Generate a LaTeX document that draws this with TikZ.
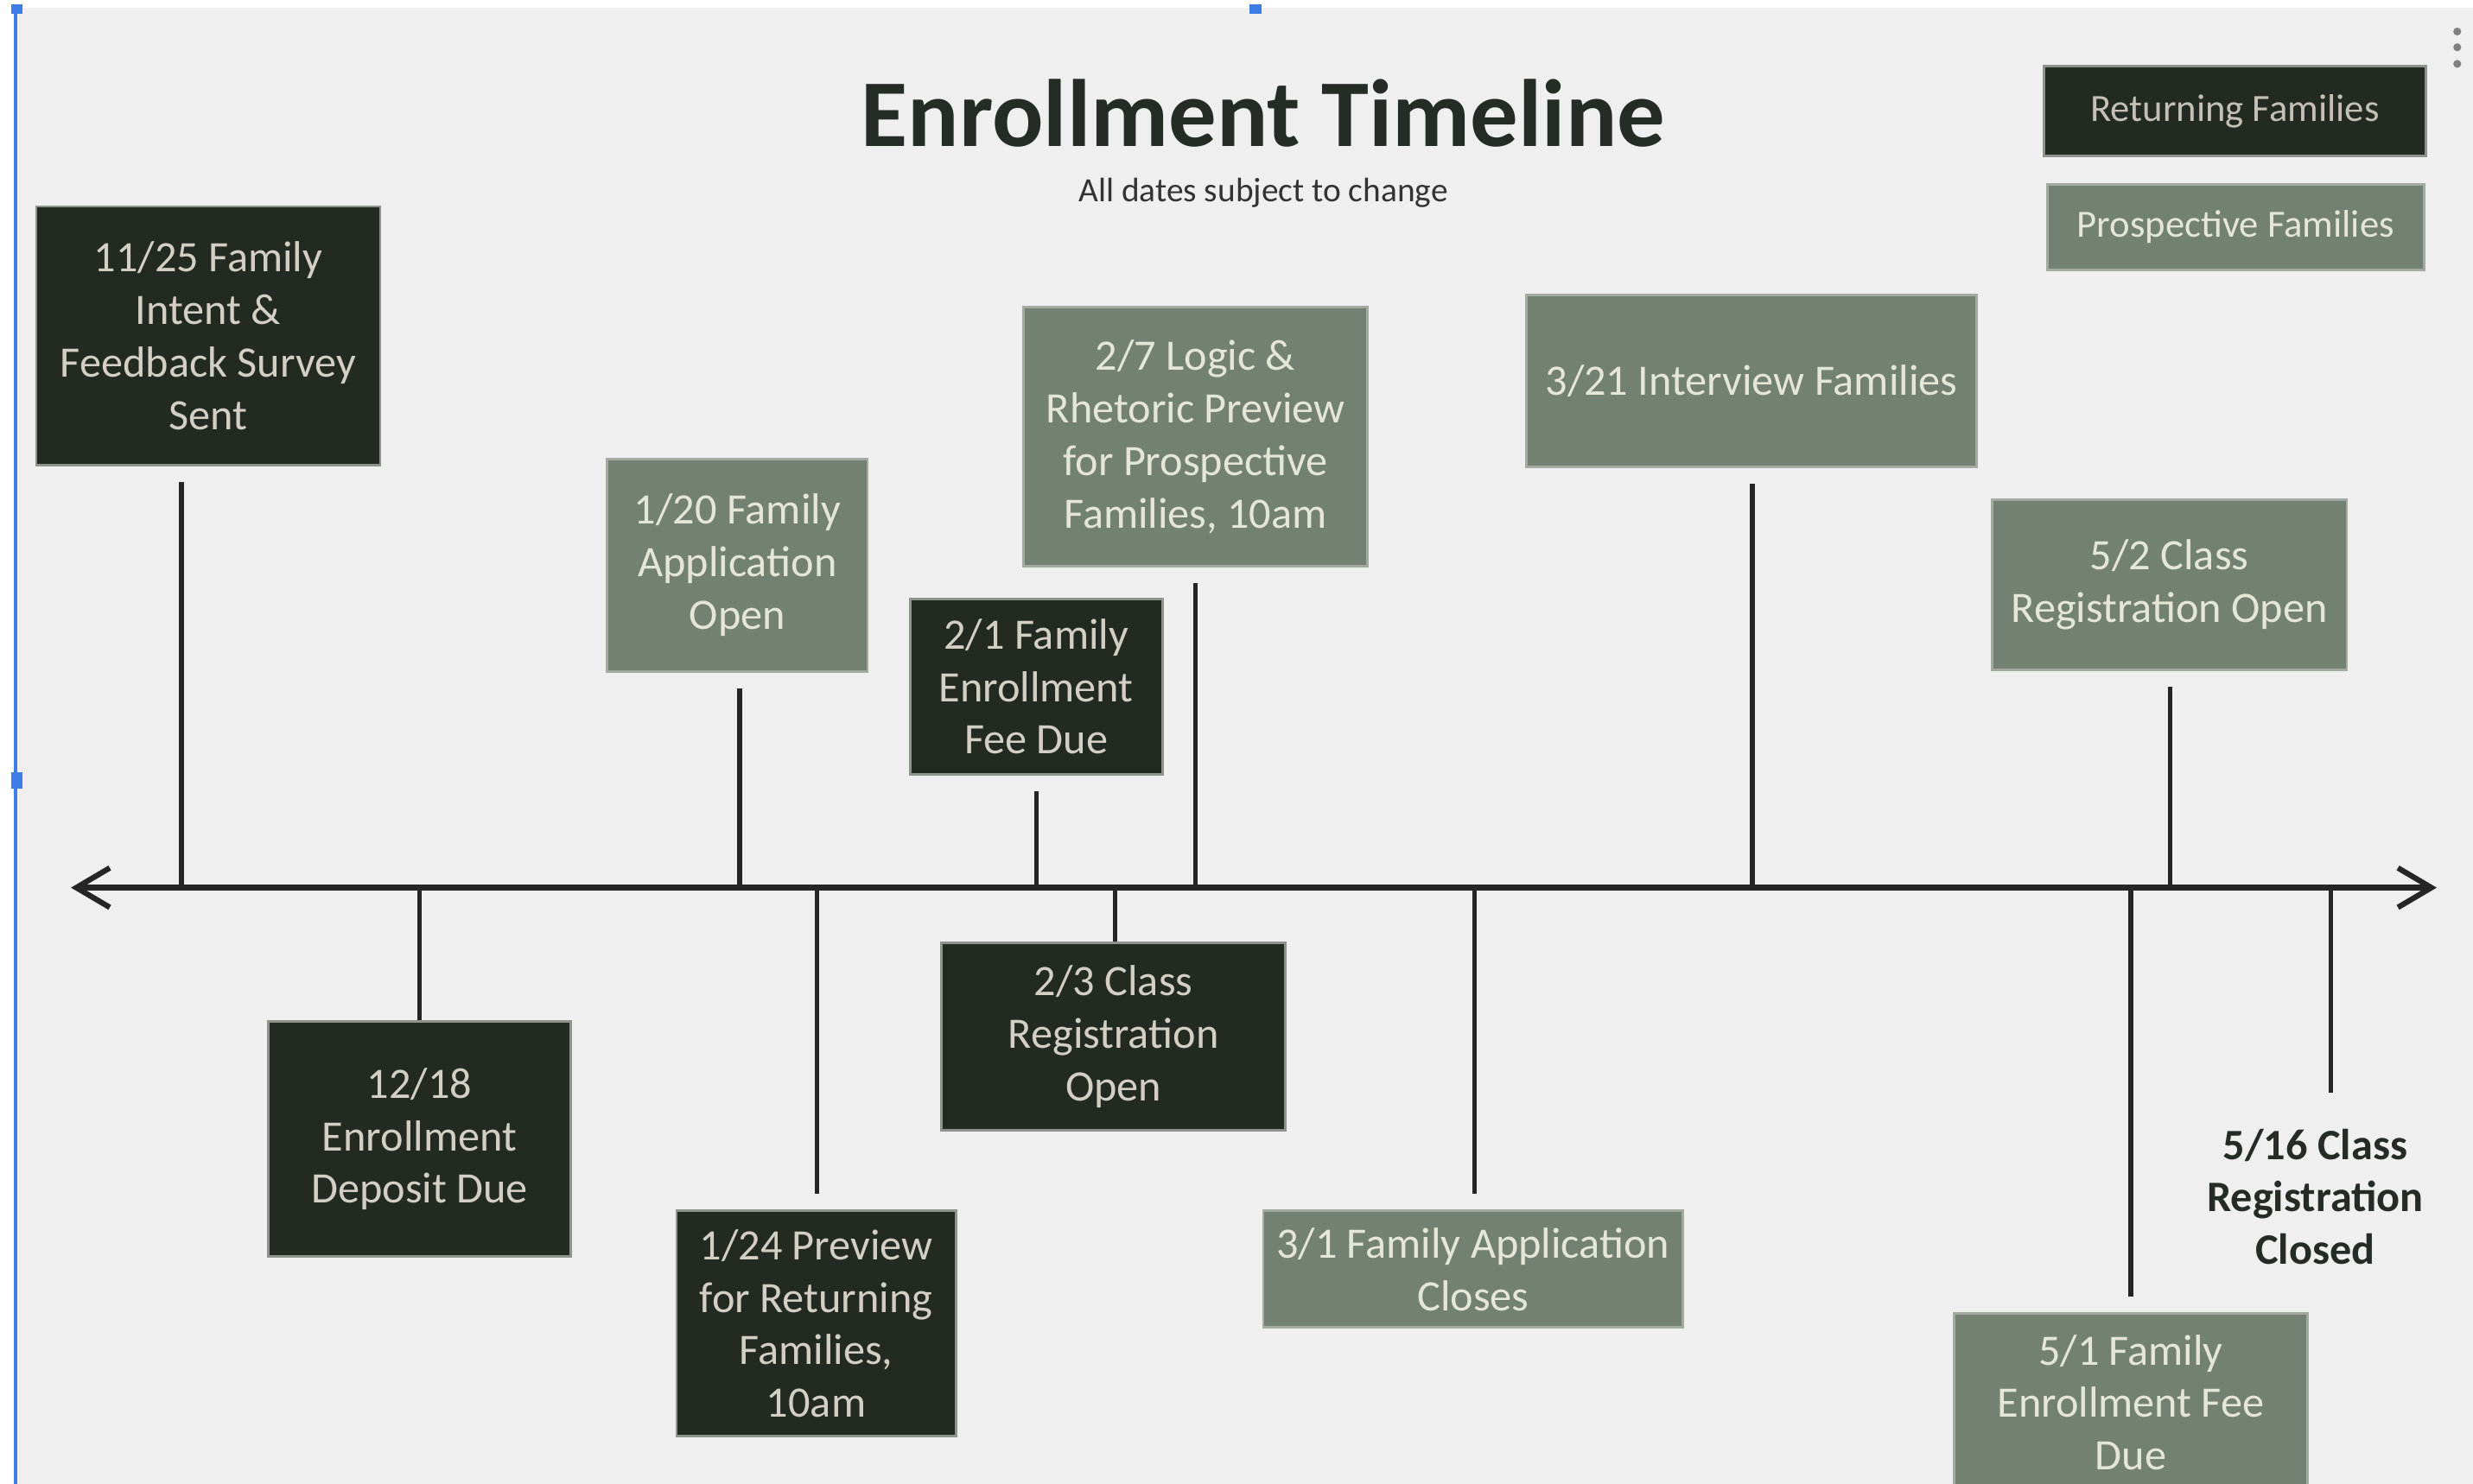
\documentclass[tikz,border=0pt]{standalone}
\usepackage{fontspec}
\setmainfont{Carlito}
\usetikzlibrary{arrows.meta}
\definecolor{bgc}{HTML}{EFEFEF}
\definecolor{darkbox}{HTML}{232A22}
\definecolor{lightbox}{HTML}{738172}
\definecolor{darkedge}{HTML}{8E938B}
\definecolor{lightedge}{HTML}{A3ABA1}
\definecolor{darktext}{HTML}{D3CFC5}
\definecolor{lighttext}{HTML}{E4E6D8}
\definecolor{legtext}{HTML}{C4C0B6}
\definecolor{inkc}{HTML}{252525}
\definecolor{titlec}{HTML}{252B25}
\definecolor{bluec}{HTML}{3D7DE6}
\newcommand\tlbox[7]{\node[#2, minimum width={(#5-#3)*0.5193pt}, minimum height={(#6-#4)*0.5193pt}] (#1) at ({(#3+#5)/2},{(#4+#6)/2}) {#7};}
\begin{document}
\begin{tikzpicture}[x=0.01825cm,y=-0.01825cm,
  boxtext/.style={font=\fontsize{14.3pt}{17.3pt}\selectfont, align=center, inner sep=0pt},
  retbox/.style={boxtext, fill=darkbox, draw=darkedge, line width=0.8pt, text=darktext},
  probox/.style={boxtext, fill=lightbox, draw=lightedge, line width=0.8pt, text=lighttext},
  conn/.style={draw=inkc, line width=1.5pt},
  gap/.style={shorten <=5.2pt},
  axisline/.style={draw=inkc, line width=1.8pt, {Straight Barb[length=11pt,width=13pt]}-{Straight Barb[length=11pt,width=13pt]}},
]
\useasboundingbox (0,0) rectangle (1568,941.2);
\clip (0,0) rectangle (1568,941.2);
\fill[white] (0,0) rectangle (1568,941.2);
\fill[bgc] (11,5) rectangle (1568,941.2);
\draw[bluec, line width=1.2pt] (10,5) -- (10,941.2);
\fill[bluec] (7,3) rectangle (14,9);
\fill[bluec] (792,3) rectangle (800,9);
\fill[bluec] (7,490) rectangle (14,500);
\fill[gray] (1558,20) circle (1.3pt);
\fill[gray] (1558,30) circle (1.3pt);
\fill[gray] (1558,40.5) circle (1.3pt);

% title
\node[anchor=base, text=titlec, font=\fontsize{31.5pt}{36pt}\selectfont\bfseries, inner sep=0pt] (title) at (801,93) {Enrollment Timeline};
\node[anchor=base, text=black!80, font=\fontsize{11.2pt}{13pt}\selectfont, inner sep=0pt] (subtitle) at (801,128) {All dates subject to change};

% legend
\tlbox{legret}{retbox, text=legtext, font=\fontsize{12.7pt}{15pt}\selectfont}{1296}{42}{1538}{99}{Returning Families}
\tlbox{legpro}{probox, font=\fontsize{12.7pt}{15pt}\selectfont}{1298}{117}{1537}{171}{Prospective Families}

% events
\tlbox{b1}{retbox}{23}{131}{241}{295}{11/25 Family\\Intent \&\\Feedback Survey\\Sent}
\tlbox{b2}{retbox}{170}{648}{362}{797}{12/18\\Enrollment\\Deposit Due}
\tlbox{b3}{probox}{385}{291}{550}{426}{1/20 Family\\Application\\Open}
\tlbox{b4}{retbox}{429}{768}{606}{911}{1/24 Preview\\for Returning\\Families,\\10am}
\tlbox{b5}{retbox}{577}{380}{737}{491}{2/1 Family\\Enrollment\\Fee Due}
\tlbox{b6}{retbox}{597}{598}{815}{717}{2/3 Class\\Registration\\Open}
\tlbox{b7}{probox}{649}{195}{867}{359}{2/7 Logic \&\\Rhetoric Preview\\for Prospective\\Families, 10am}
\tlbox{b8}{probox}{801}{768}{1067}{842}{3/1 Family Application\\Closes}
\tlbox{b9}{probox}{968}{187}{1253}{296}{3/21 Interview Families}
\tlbox{b10}{probox}{1263}{317}{1488}{425}{5/2 Class\\Registration Open}
\tlbox{b11}{probox}{1239}{833}{1463}{946}{5/1 Family\\Enrollment Fee\\Due}
\node[boxtext, font=\fontsize{14.3pt}{17.3pt}\selectfont\bfseries, text=titlec] (b12) at (1468,759) {5/16 Class\\Registration\\Closed};

% axis points
\coordinate (L) at (45,563);
\coordinate (R) at (1545,563);
\coordinate (a1) at (115,563);
\coordinate (a2) at (266,563);
\coordinate (a3) at (469,563);
\coordinate (a4) at (518,563);
\coordinate (a5) at (657,563);
\coordinate (a6) at (707,563);
\coordinate (a7) at (758,563);
\coordinate (a8) at (935,563);
\coordinate (a9) at (1111,563);
\coordinate (a10) at (1376,563);
\coordinate (a11) at (1351,563);
\coordinate (a12) at (1478,563);

% connectors
\draw[conn, gap] (b1.south -| a1) -- (a1);
\draw[conn] (a2) -- (b2.north -| a2);
\draw[conn, gap] (b3.south -| a3) -- (a3);
\draw[conn, shorten >=5.2pt] (a4) -- (b4.north -| a4);
\draw[conn, gap] (b5.south -| a5) -- (a5);
\draw[conn] (a6) -- (b6.north -| a6);
\draw[conn, gap] (b7.south -| a7) -- (a7);
\draw[conn, shorten >=5.2pt] (a8) -- (b8.north -| a8);
\draw[conn, gap] (b9.south -| a9) -- (a9);
\draw[conn, gap] (b10.south -| a10) -- (a10);
\draw[conn, shorten >=5.2pt] (a11) -- (b11.north -| a11);
\coordinate (e12) at (1478,693);
\draw[conn] (a12) -- (e12);

\draw[axisline] (L) -- (R);
\end{tikzpicture}
\end{document}
